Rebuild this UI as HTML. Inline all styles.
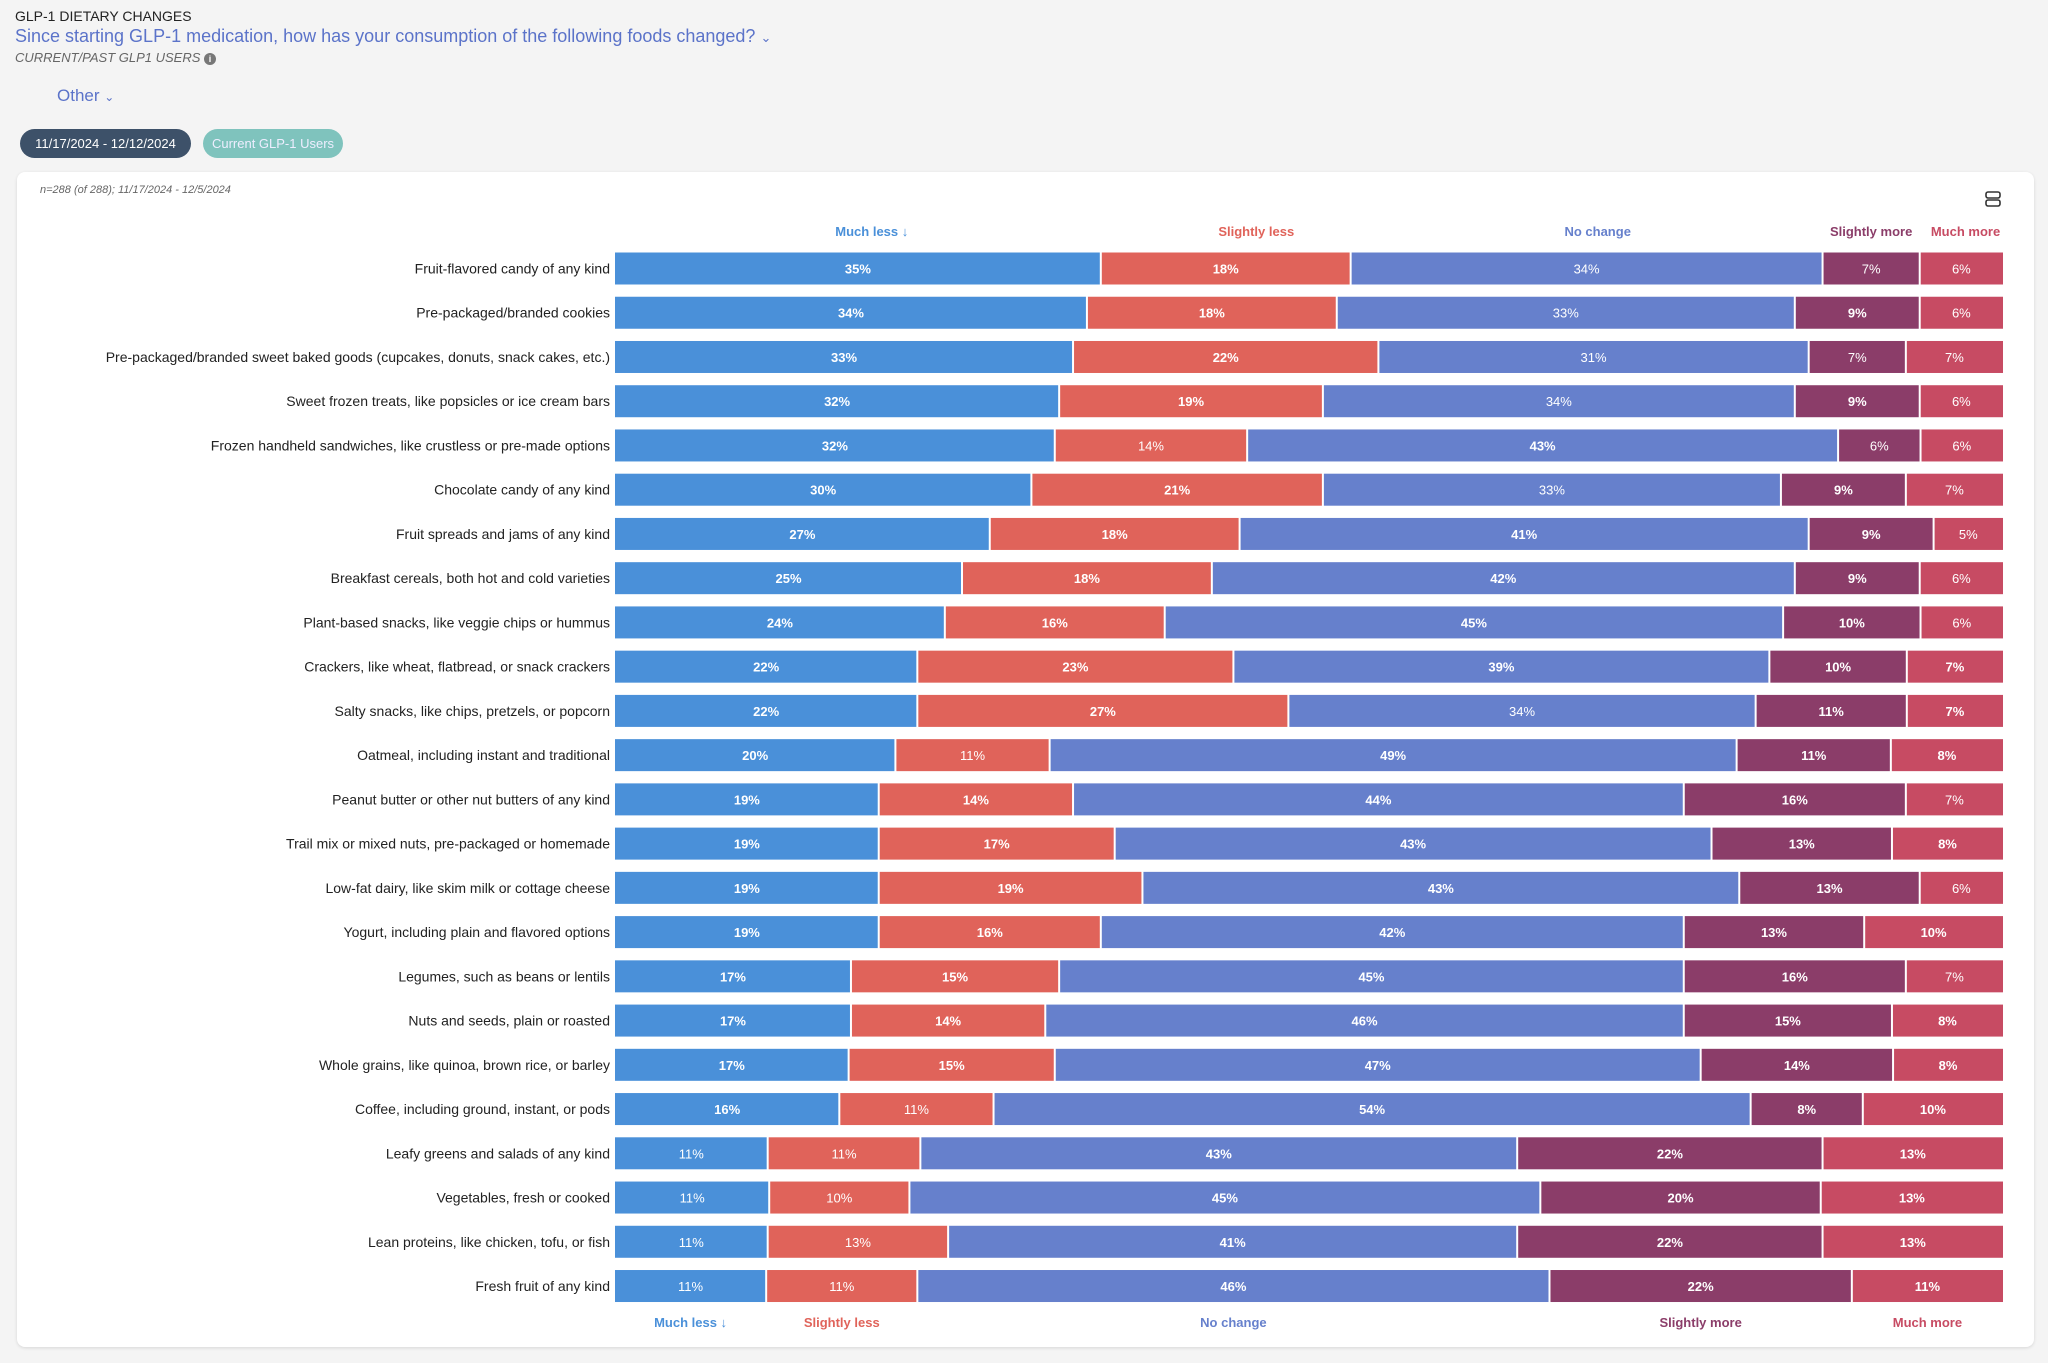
<!DOCTYPE html>
<html><head><meta charset="utf-8"><style>
body{margin:0;width:2048px;height:1363px;background:#f4f4f4;font-family:"Liberation Sans",sans-serif;overflow:hidden;position:relative}
.abs{position:absolute;white-space:nowrap}
</style></head><body>
<div class="abs" style="left:15px;top:8px;font-size:14px;color:#222">GLP-1 DIETARY CHANGES</div>
<div class="abs" style="left:15px;top:26px;font-size:18px;color:#5b73c9">Since starting GLP-1 medication, how has your consumption of the following foods changed? <span style="font-size:13px">&#8964;</span></div>
<div class="abs" style="left:15px;top:50px;font-size:13px;color:#666;font-style:italic">CURRENT/PAST GLP1 USERS <span style="display:inline-block;width:12px;height:12px;border-radius:6px;background:#777;color:#fff;font-size:9px;text-align:center;line-height:12px;font-style:normal;font-weight:bold">i</span></div>
<div class="abs" style="left:57px;top:86px;font-size:17px;color:#5b73c9">Other <span style="font-size:12px">&#8964;</span></div>
<div class="abs" style="left:20px;top:129px;width:171px;height:29px;border-radius:15px;background:#3d5169;color:#fff;font-size:13px;line-height:29px;text-align:center">11/17/2024 - 12/12/2024</div>
<div class="abs" style="left:203px;top:129px;width:140px;height:29px;border-radius:15px;background:#7fc3bd;color:#eef;font-size:13px;line-height:29px;text-align:center">Current GLP-1 Users</div>
<div class="abs" style="left:17px;top:172px;width:2017px;height:1175px;background:#fff;border-radius:8px;box-shadow:0 1px 3px rgba(0,0,0,.12)"></div>
<div class="abs" style="left:40px;top:184px;font-size:11px;color:#666;font-style:italic">n=288 (of 288); 11/17/2024 - 12/5/2024</div>
<svg class="abs" style="left:0;top:0" width="2048" height="1363" id="chart"></svg>
<script>
const categories=["Fruit-flavored candy of any kind","Pre-packaged/branded cookies","Pre-packaged/branded sweet baked goods (cupcakes, donuts, snack cakes, etc.)","Sweet frozen treats, like popsicles or ice cream bars","Frozen handheld sandwiches, like crustless or pre-made options","Chocolate candy of any kind","Fruit spreads and jams of any kind","Breakfast cereals, both hot and cold varieties","Plant-based snacks, like veggie chips or hummus","Crackers, like wheat, flatbread, or snack crackers","Salty snacks, like chips, pretzels, or popcorn","Oatmeal, including instant and traditional","Peanut butter or other nut butters of any kind","Trail mix or mixed nuts, pre-packaged or homemade","Low-fat dairy, like skim milk or cottage cheese","Yogurt, including plain and flavored options","Legumes, such as beans or lentils","Nuts and seeds, plain or roasted","Whole grains, like quinoa, brown rice, or barley","Coffee, including ground, instant, or pods","Leafy greens and salads of any kind","Vegetables, fresh or cooked","Lean proteins, like chicken, tofu, or fish","Fresh fruit of any kind"];
const seriesNames=["Much less","Slightly less","No change","Slightly more","Much more"];
const muchLess=[35,34,33,32,32,30,27,25,24,22,22,20,19,19,19,19,17,17,17,16,11,11,11,11];
const slightlyLess=[18,18,22,19,14,21,18,18,16,23,27,11,14,17,19,16,15,14,15,11,11,10,13,11];
const noChange=[34,33,31,34,43,33,41,42,45,39,34,49,44,43,43,42,45,46,47,54,43,45,41,46];
const slightlyMore=[7,9,7,9,6,9,9,9,10,10,11,11,16,13,13,13,16,15,14,8,22,20,22,22];
const muchMore=[6,6,7,6,6,7,5,6,6,7,7,8,7,8,6,10,7,8,8,10,13,13,13,11];
const boldMask=["11000","11010","11000","11010","10100","11010","11110","11110","11110","11111","11011","10111","11110","11111","11110","11111","11110","11111","11111","10111","00111","00111","00111","00111"];
const colors=["#4a90d9","#e0635a","#6680cc","#8b3d69","#c74b63"];
const X0=615,X1=2003,Y0=268.5,ROW=44.24,BH=32;
const ns="http://www.w3.org/2000/svg";
const svg=document.getElementById('chart');
function xScale(f){return X0+f*(X1-X0);}
function yScale(i){return Y0+i*ROW;}
function mk(t,a){const e=document.createElementNS(ns,t);for(const k in a)e.setAttribute(k,a[k]);svg.appendChild(e);return e;}
const series=[muchLess,slightlyLess,noChange,slightlyMore,muchMore];
categories.forEach((c,i)=>{
  const y=yScale(i);
  const lab=mk('text',{x:X0-5,y:y+5,'text-anchor':'end','font-size':14,fill:'#222'});
  
  
  lab.textContent=c;
  const vals=series.map(s=>s[i]);const tot=vals.reduce((a,b)=>a+b,0);
  let cum=0;
  vals.forEach((v,k)=>{
    const xa=xScale(cum/tot),xb=xScale((cum+v)/tot);cum+=v;
    const r=mk('rect',{x:xa+(k?1:0),y:y-BH/2,width:xb-xa-(k?1:0)-(k<4?1:0),height:BH,fill:colors[k]});
    
    
    const t=mk('text',{x:(xa+xb)/2,y:y+5,'text-anchor':'middle','font-size':13,fill:'#fff','font-weight':boldMask[i][k]==='1'?'bold':'normal'});
    
    
    t.textContent=v+'%';
  });
});
const topLabelFrac=[0.185,0.462,0.708,0.905,0.973];
seriesNames.forEach((n,k)=>{
  const t=mk('text',{x:xScale(topLabelFrac[k]),y:236,'text-anchor':'middle','font-size':13,'font-weight':'bold',fill:colors[k]});
  
  
  t.textContent=n+(k===0?' ↓':'');
});
// bottom labels centered on last row
const li=categories.length-1;const lv=series.map(s=>s[li]);const lt=lv.reduce((a,b)=>a+b,0);let lc=0;
lv.forEach((v,k)=>{
  const cx=xScale((lc+v/2)/lt);lc+=v;
  const t=mk('text',{x:cx,y:1327,'text-anchor':'middle','font-size':13,'font-weight':'bold',fill:colors[k]});
  
  
  t.textContent=seriesNames[k]+(k===0?' ↓':'');
});
const ic=mk('g',{});


[192,200].forEach(yy=>{const r=document.createElementNS(ns,'rect');r.setAttribute('x',1986);r.setAttribute('y',yy);r.setAttribute('width',14);r.setAttribute('height',6);r.setAttribute('rx',2);r.setAttribute('fill','none');r.setAttribute('stroke','#333');r.setAttribute('stroke-width',1.6);ic.appendChild(r);});
</script>
</body></html>
